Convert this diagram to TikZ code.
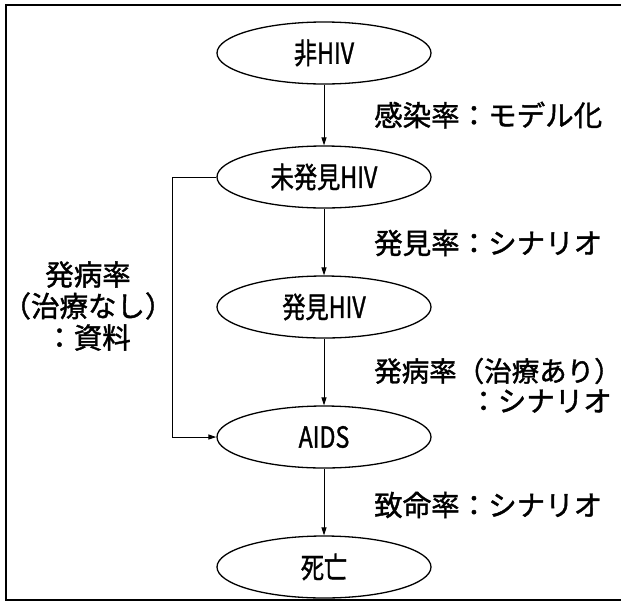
\documentclass[tikz,border=0pt]{standalone}
\usepackage{fontspec}
\setmainfont{Noto Sans CJK JP}[FakeBold=1.4]
\usetikzlibrary{arrows.meta,shapes.geometric}
\newcommand{\cond}[1]{\scalebox{0.8}[1]{#1}}
\begin{document}
\begin{tikzpicture}[x=1pt,y=-1pt,
  state/.style={draw,line width=1.3pt,ellipse,minimum width=214pt,minimum height=62pt,inner sep=0pt,font=\fontsize{29}{31}\selectfont},
  lbl/.style={font=\fontsize{28.5}{31.5}\selectfont,inner sep=0pt},
  conn/.style={line width=1pt,-{Triangle[length=8pt,width=5pt]}}]
\useasboundingbox (0,0) rectangle (621,603);
\draw[line width=1.8pt] (621,5) -- (6,5) -- (6,600) -- (621,600);
\node[state] (n1) at (324,53) {\cond{非HIV}};
\node[state] (n2) at (324,177) {\cond{未発見HIV}};
\node[state] (n3) at (324,307) {\cond{発見HIV}};
\node[state] (n4) at (324,437) {\cond{AIDS}};
\node[state] (n5) at (324,567) {\cond{死亡}};
\draw[conn] (n1) -- (n2);
\draw[conn] (n2) -- (n3);
\draw[conn] (n3) -- (n4);
\draw[conn] (n4) -- (n5);
\coordinate (c1) at (172,177);
\coordinate (c2) at (172,437);
\draw[conn] (n2.west) -- (c1) -- (c2) -- (n4.west);
\node[lbl,anchor=west] (l1) at (374,115) {感染率：モデル化};
\node[lbl,anchor=west] (l2) at (374,243) {発見率：シナリオ};
\node[lbl,anchor=west,font=\fontsize{27.5}{30}\selectfont] (l3) at (374,371) {発病率（治療あり\makebox[0.5em][l]{）}};
\node[lbl,anchor=east] (l3b) at (612,401) {：シナリオ};
\node[lbl,anchor=west] (l4) at (374,505) {致命率：シナリオ};
\node[lbl,align=center] (l5) at (88,306) {発病率\\（治療なし）\\：資料};
\end{tikzpicture}
\end{document}
